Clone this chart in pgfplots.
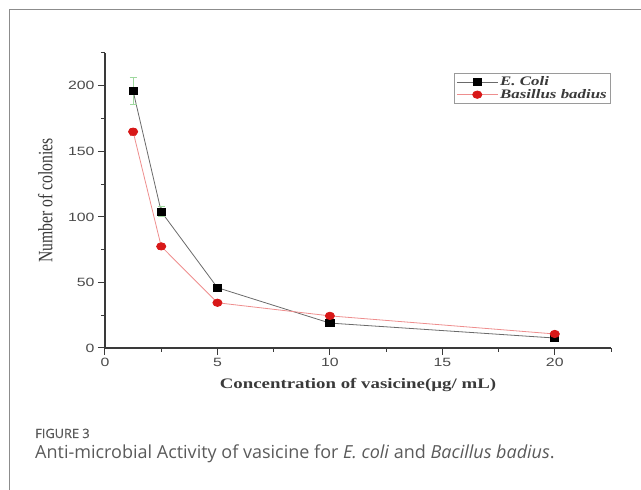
\documentclass[border=0pt]{standalone}
\usepackage{pgfplots}
\pgfplotsset{compat=1.18}
\usepackage{fontspec}
\setmainfont{Liberation Serif}
\newfontfamily\serifst[FakeStretch=1.3]{Liberation Serif}
\newfontfamily\sansst[FakeStretch=1.32]{Liberation Sans}
\newfontfamily\osans{Open Sans}
\newfontfamily\osansb[FakeBold=0.6]{Open Sans}
\definecolor{framegray}{HTML}{8C8C8C}
\definecolor{axisgray}{HTML}{3A3A3A}
\definecolor{labelgray}{HTML}{4A4A4A}
\definecolor{linegray}{HTML}{6A6A6A}
\definecolor{linered}{HTML}{EE8E8E}
\definecolor{markred}{HTML}{D81818}
\definecolor{errgreen}{HTML}{9ED89E}
\definecolor{legendgray}{HTML}{9A9A9A}
\definecolor{capgray}{HTML}{5A5A5A}
\begin{document}
\begin{tikzpicture}[x=1pt,y=1pt]
\useasboundingbox (0pt,0pt) rectangle (641pt,490pt);
\clip (0pt,0pt) rectangle (641pt,490pt);
\draw[framegray, line width=1.5pt] (700pt,480.5pt) -- (9.5pt,480.5pt) -- (9.5pt,-20pt);
\node[anchor=base west, inner sep=0pt, text=capgray, font=\osansb\fontsize{12.8}{14}\selectfont] at (35pt,52pt) {FIGURE 3};
\node[anchor=base west, inner sep=0pt, text=capgray, font=\osans\fontsize{18}{20}\selectfont] at (35pt,31pt) {Anti-microbial Activity of vasicine for \textit{E. coli} and \textit{Bacillus badius}.};
\begin{axis}[
  at={(105pt,142pt)}, anchor=south west,
  scale only axis, width=506pt, height=295pt,
  xmin=0, xmax=22.5, ymin=0, ymax=225,
  axis x line*=bottom, axis y line*=left,
  xtick={0,5,10,15,20}, ytick={0,50,100,150,200},
  minor xtick={2.5,7.5,12.5,17.5,22.5}, minor ytick={25,75,125,175,225},
  tick align=outside,
  major tick length=7pt, minor tick length=4pt,
  every tick/.style={line width=1pt, color=axisgray},
  axis line style={line width=1.1pt, color=axisgray},
  ticklabel style={font=\sansst\fontsize{12}{14}\selectfont, text=labelgray},
  /pgf/number format/assume math mode=true,
  xlabel={Concentration of vasicine(µg/ mL)},
  ylabel={\scalebox{1}[1.3]{Number of colonies}},
  x label style={at={(axis description cs:0.5,-0.125)}, anchor=center, font=\serifst\bfseries\fontsize{14.5}{17}\selectfont, text=axisgray},
  y label style={at={(axis description cs:-0.118,0.5)}, anchor=center, font=\fontsize{15.7}{18}\selectfont, text=axisgray},
  legend style={at={(0.6897,0.9322)}, anchor=north west, draw=legendgray, line width=0.8pt, font=\serifst\bfseries\itshape\fontsize{13}{15}\selectfont, inner xsep=2pt, inner ysep=1.5pt, nodes={inner sep=2pt}, row sep=-2pt, cells={anchor=west}, text=axisgray},
  legend image code/.code={\draw[mark repeat=2,mark phase=2,#1] plot coordinates {(0pt,0pt) (20.5pt,0pt) (41pt,0pt)};},
  clip=false,
]
\addplot[color=linegray, line width=0.8pt, mark=square*, mark size=4.1pt,
  mark options={fill=black, draw=black, solid, yscale=0.8},
  error bars/.cd, y dir=both, y explicit,
  error bar style={color=errgreen, line width=0.9pt},
  error mark options={rotate=90, mark size=3.6pt, color=errgreen, line width=0.9pt}]
  coordinates {(1.25,196) +- (0,10) (2.5,104) +- (0,4) (5,46) +- (0,2) (10,19) +- (0,1.5) (20,7.6) +- (0,1)};
\addlegendentry{E. Coli}
\addplot[color=linered, line width=0.8pt, mark=*, mark size=4.6pt,
  mark options={fill=markred, draw=markred, solid, yscale=0.8},
  error bars/.cd, y dir=both, y explicit,
  error bar style={color=markred!70, line width=0.8pt},
  error mark options={rotate=90, mark size=3pt, color=markred!70}]
  coordinates {(1.25,165) +- (0,3) (2.5,77.5) +- (0,2) (5,34.5) +- (0,1.5) (10,24.5) +- (0,1.5) (20,10.7) +- (0,1)};
\addlegendentry{Basillus badius}
\end{axis}
\end{tikzpicture}
\end{document}
